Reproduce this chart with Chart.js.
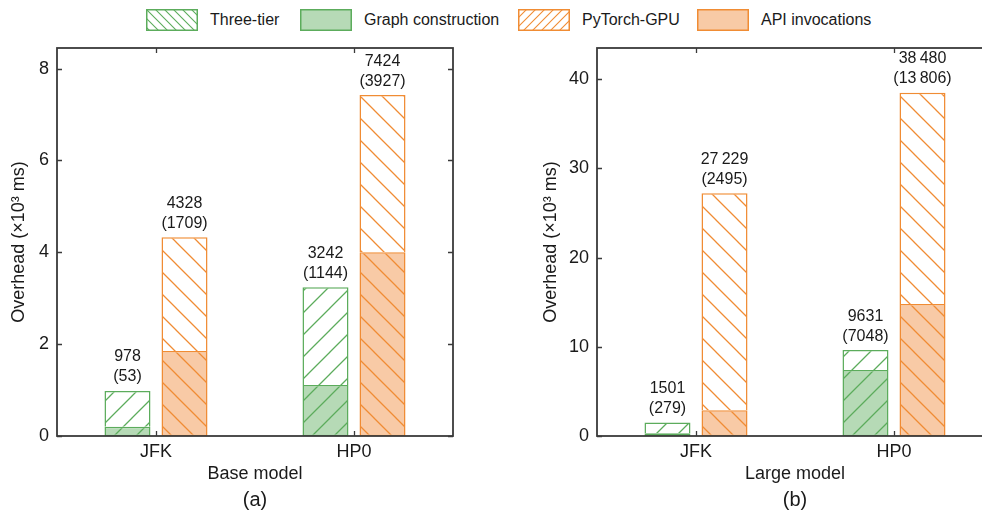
<!DOCTYPE html>
<html><head><meta charset="utf-8">
<script src="https://cdn.jsdelivr.net/npm/chart.js@4.4.1/dist/chart.umd.min.js"></script>
<style>
html,body{margin:0;padding:0;width:982px;height:516px;overflow:hidden;background:#fff;font-family:"Liberation Sans",Arial,sans-serif;color:#1a1a1a;}
.wrap{position:absolute;top:0;height:516px;width:470px;}
.lg{position:absolute;top:9px;height:22px;display:flex;align-items:center;font-size:16px;white-space:nowrap;}
.lg canvas{width:52px;height:22px;margin-right:12px;display:block;}
</style></head><body>
<div class="lg" style="left:146px"><canvas id="sw0" width="52" height="22"></canvas><span>Three-tier</span></div>
<div class="lg" style="left:300px"><canvas id="sw1" width="52" height="22"></canvas><span>Graph construction</span></div>
<div class="lg" style="left:518px"><canvas id="sw2" width="52" height="22"></canvas><span>PyTorch-GPU</span></div>
<div class="lg" style="left:697px"><canvas id="sw3" width="52" height="22"></canvas><span>API invocations</span></div>
<div class="wrap" style="left:0px"><canvas id="c1" width="470" height="516"></canvas></div>
<div class="wrap" style="left:540px"><canvas id="c2" width="470" height="516"></canvas></div>
<script>
// ---- data (values in 10^3 ms) ----
const categories = ['JFK', 'HP0'];
const baseThreeTier = [0.978, 3.242];
const baseGraphConstruction = [0.20, 1.11];
const basePyTorchGPU = [4.328, 7.424];
const baseAPIInvocations = [1.85, 4.0];
const largeThreeTier = [1.501, 9.631];
const largeGraphConstruction = [0.30, 7.4];
const largePyTorchGPU = [27.229, 38.48];
const largeAPIInvocations = [2.9, 14.8];
// labels shown above bars
const baseThreeTierLabels = ['978', '3242'];
const baseThreeTierParen = ['53', '1144'];
const basePyTorchLabels = ['4328', '7424'];
const basePyTorchParen = ['1709', '3927'];
const largeThreeTierLabels = ['1501', '9631'];
const largeThreeTierParen = ['279', '7048'];
const largePyTorchLabels = ['27\u2009229', '38\u2009480'];
const largePyTorchParen = ['2495', '13\u2009806'];
const baseTicks = [0, 2, 4, 6, 8];
const largeTicks = [0, 10, 20, 30, 40];

const GREEN = 'rgb(92,172,92)', GREEN_FILL = 'rgb(182,218,182)';
const ORANGE = 'rgb(240,140,52)', ORANGE_FILL = 'rgb(248,202,166)';
const TXT = '#1a1a1a', AX = '#3a3a3a';
const FONT = '"Liberation Sans", Arial, sans-serif';

function hatch(bg, color, dir, size, lw) {
  const c = document.createElement('canvas'); c.width = c.height = size;
  const x = c.getContext('2d');
  if (bg) { x.fillStyle = bg; x.fillRect(0, 0, size, size); }
  x.strokeStyle = color; x.lineWidth = lw;
  x.beginPath();
  for (let k = -1; k <= 1; k++) {
    if (dir === '/') { x.moveTo(k * size - 1, size + 1); x.lineTo(k * size + size + 1, -1); }
    else { x.moveTo(k * size - 1, -1); x.lineTo(k * size + size + 1, size + 1); }
  }
  x.stroke();
  return x.createPattern(c, 'repeat');
}
const pGreenFill = hatch(GREEN_FILL, GREEN, '/', 22, 1.3);
const pGreenWhite = hatch('#fff', GREEN, '/', 22, 1.3);
const pOrangeFill = hatch(ORANGE_FILL, ORANGE, '\\', 22, 1.3);
const pOrangeWhite = hatch('#fff', ORANGE, '\\', 22, 1.3);

// legend swatches
function swatch(id, fill, stroke) {
  const c = document.getElementById(id), x = c.getContext('2d');
  x.fillStyle = fill; x.fillRect(0, 0, 52, 22);
  x.strokeStyle = stroke; x.lineWidth = 1.5; x.strokeRect(0.75, 0.75, 50.5, 20.5);
}
swatch('sw0', hatch('#fff', GREEN, '\\', 9, 1.1), GREEN);
swatch('sw1', GREEN_FILL, GREEN);
swatch('sw2', hatch('#fff', ORANGE, '/', 9, 1.1), ORANGE);
swatch('sw3', ORANGE_FILL, ORANGE);

const framePlugin = {
  id: 'frame',
  afterDraw(chart) {
    const { ctx, chartArea: a, scales } = chart;
    ctx.save();
    ctx.strokeStyle = AX; ctx.lineWidth = 1.8;
    ctx.strokeRect(a.left, a.top, a.right - a.left, a.bottom - a.top);
    ctx.lineWidth = 1.3;
    ctx.beginPath();
    scales.y.ticks.forEach(t => {
      const py = Math.round(scales.y.getPixelForValue(t.value)) + 0.5;
      ctx.moveTo(a.left, py); ctx.lineTo(a.left + 5, py);
      ctx.moveTo(a.right, py); ctx.lineTo(a.right - 5, py);
    });
    scales.x.ticks.forEach((t, i) => {
      const px = Math.round(scales.x.getPixelForTick(i)) + 0.5;
      ctx.moveTo(px, a.bottom); ctx.lineTo(px, a.bottom - 5);
      ctx.moveTo(px, a.top); ctx.lineTo(px, a.top + 5);
    });
    ctx.stroke();
    ctx.restore();
  }
};

const labelPlugin = {
  id: 'barLabels',
  afterDatasetsDraw(chart) {
    const { ctx } = chart;
    const lab = chart.options.plugins.barLabels;
    ctx.save();
    ctx.fillStyle = TXT; ctx.font = '16px ' + FONT;
    ctx.textAlign = 'center'; ctx.textBaseline = 'middle';
    lab.forEach(l => {
      chart.getDatasetMeta(l.ds).data.forEach((el, i) => {
        ctx.fillText(l.top[i], el.x, el.y - 34);
        ctx.fillText('(' + l.paren[i] + ')', el.x, el.y - 14);
      });
    });
    ctx.restore();
  }
};

function makeChart(id, three, graph, py, api, threeL, threeP, pyL, pyP, ticks, ymax, xTitle, panel, padLeft, yWidth) {
  const threeRest = three.map((v, i) => v - graph[i]);
  const pyRest = py.map((v, i) => v - api[i]);
  const common = { borderWidth: 1.5, categoryPercentage: 0.576, barPercentage: 0.807 };
  return new Chart(document.getElementById(id), {
    type: 'bar',
    data: {
      labels: categories,
      datasets: [
        Object.assign({ label: 'Graph construction', data: graph, stack: 'g', backgroundColor: pGreenFill, borderColor: GREEN, borderSkipped: false }, common),
        Object.assign({ label: 'Three-tier', data: threeRest, stack: 'g', backgroundColor: pGreenWhite, borderColor: GREEN, borderSkipped: 'bottom' }, common),
        Object.assign({ label: 'API invocations', data: api, stack: 'o', backgroundColor: pOrangeFill, borderColor: ORANGE, borderSkipped: false }, common),
        Object.assign({ label: 'PyTorch-GPU', data: pyRest, stack: 'o', backgroundColor: pOrangeWhite, borderColor: ORANGE, borderSkipped: 'bottom' }, common)
      ]
    },
    options: {
      responsive: false, animation: false, devicePixelRatio: 1,
      layout: { padding: { top: 48, right: 17, left: padLeft, bottom: 0 } },
      scales: {
        x: {
          stacked: true,
          grid: { display: false, drawTicks: false },
          border: { display: false },
          ticks: { color: TXT, font: { family: FONT, size: 18 }, padding: 5 },
          title: { display: true, text: xTitle, color: TXT, font: { family: FONT, size: 18 }, padding: { top: 0, bottom: 3 } },
          afterFit(s) { s.height = 52; }
        },
        y: {
          stacked: true, min: 0, max: ymax,
          afterBuildTicks(s) { s.ticks = ticks.map(v => ({ value: v })); },
          grid: { display: false, drawTicks: false },
          border: { display: false },
          ticks: { color: TXT, font: { family: FONT, size: 18 }, padding: 8 },
          title: { display: true, text: 'Overhead (\u00d710\u00b3 ms)', color: TXT, font: { family: FONT, size: 18 }, padding: { top: 0, bottom: 0 } },
          afterFit(s) { s.width = yWidth; }
        }
      },
      plugins: {
        legend: { display: false },
        tooltip: { enabled: false },
        title: { display: true, position: 'bottom', fullSize: false, text: panel, color: TXT, font: { family: FONT, size: 20, weight: 'normal' }, padding: { top: 0, bottom: 4 } },
        barLabels: [
          { ds: 1, top: threeL, paren: threeP },
          { ds: 3, top: pyL, paren: pyP }
        ]
      }
    },
    plugins: [framePlugin, labelPlugin]
  });
}

makeChart('c1', baseThreeTier, baseGraphConstruction, basePyTorchGPU, baseAPIInvocations,
  baseThreeTierLabels, baseThreeTierParen, basePyTorchLabels, basePyTorchParen, baseTicks, 8.45, 'Base model', '(a)', 8, 49);
makeChart('c2', largeThreeTier, largeGraphConstruction, largePyTorchGPU, largeAPIInvocations,
  largeThreeTierLabels, largeThreeTierParen, largePyTorchLabels, largePyTorchParen, largeTicks, 43.5, 'Large model', '(b)', 0, 57);
</script>
</body></html>
